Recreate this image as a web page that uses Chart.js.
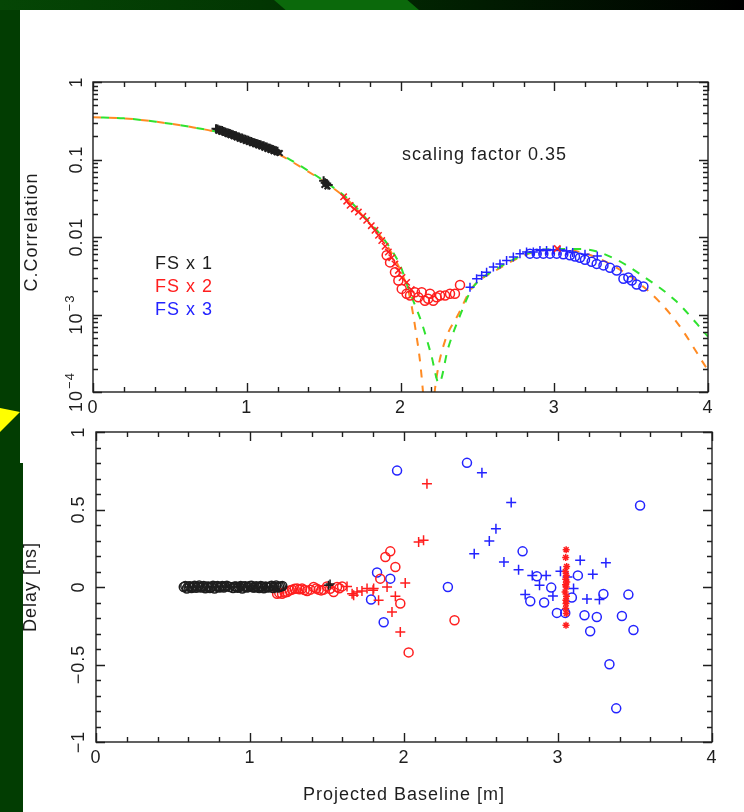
<!DOCTYPE html>
<html>
<head>
<meta charset="utf-8">
<title>C.Correlation and Delay vs Projected Baseline</title>
<script src="https://cdn.jsdelivr.net/npm/chart.js@4.4.1/dist/chart.umd.min.js"></script>
<style>
  html, body { margin: 0; padding: 0; }
  body { width: 744px; height: 812px; position: relative; overflow: hidden; background: #023d02; }
  .bg { position: absolute; }
  #strip { left: 0; top: 0; width: 744px; height: 10px; background: linear-gradient(90deg, #054605 0%, #023602 35%, #011c01 65%, #000 100%); }
  #streak { left: 274px; top: 0; width: 145px; height: 10px; background: #0b690b; clip-path: polygon(0 0, 92% 0, 100% 100%, 8% 100%); }
  #panel { left: 20px; top: 10px; width: 724px; height: 802px; background: #fff; }
  #notch { left: 20px; top: 463px; width: 3px; height: 349px; background: #023d02; }
  #arrow { left: 0; top: 408px; width: 20px; height: 24px; background: #ffff00; clip-path: polygon(0 0, 100% 17%, 0 100%); }
  canvas { position: absolute; left: 0; top: 0; }
</style>
</head>
<body>
<div class="bg" id="strip"></div>
<div class="bg" id="streak"></div>
<div class="bg" id="panel"></div>
<div class="bg" id="notch"></div>
<div class="bg" id="arrow"></div>
<canvas id="corrChart" width="744" height="812"></canvas>
<canvas id="delayChart" width="744" height="812"></canvas>

<script>
// ---------- data ----------

// axis ticks
const xTicks = [0, 1, 2, 3, 4];
const xTickLabels = ['0', '1', '2', '3', '4'];
const corrTicks = [1, 0.1, 0.01, 0.001, 0.0001];
const corrTickLabels = ['1', '0.1', '0.01', '10^−3', '10^−4'];
const delayTicks = [1, 0.5, 0, -0.5, -1];
const delayTickLabels = ['1', '0.5', '0', '−0.5', '−1'];

// model curves (C.Correlation)
const modelOrangeX = [0, 0.2, 0.41, 0.63, 0.85, 1.07, 1.22, 1.37, 1.52, 1.65, 1.78, 1.89, 2.0, 2.06, 2.1, 2.13, 2.155, 2.18, 2.21, 2.24, 2.29, 2.375, 2.465, 2.62, 2.835, 3.01, 3.18, 3.38, 3.59, 3.79, 4.0];
const modelOrangeY = [0.35, 0.34, 0.307, 0.264, 0.215, 0.153, 0.113, 0.076, 0.049, 0.031, 0.0164, 0.009, 0.0037, 0.0017, 0.0006, 0.00022, 0.00006, 0.00001, 0.00006, 0.00018, 0.00046, 0.001, 0.0022, 0.0037, 0.0061, 0.007, 0.0063, 0.0043, 0.0022, 0.00083, 0.00019];
const modelGreenX = [0, 0.2, 0.41, 0.63, 0.85, 1.07, 1.22, 1.37, 1.52, 1.65, 1.78, 1.89, 2.0, 2.05, 2.14, 2.2, 2.25, 2.31, 2.4, 2.465, 2.62, 2.835, 3.0, 3.18, 3.38, 3.59, 3.79, 4.0];
const modelGreenY = [0.35, 0.34, 0.307, 0.264, 0.217, 0.155, 0.116, 0.078, 0.05, 0.032, 0.017, 0.0095, 0.0042, 0.0022, 0.00076, 0.0003, 0.00013, 0.00037, 0.00112, 0.00215, 0.0038, 0.0062, 0.007, 0.007, 0.0054, 0.003, 0.0015, 0.00052];

// FS x 1 correlation (two overlapping runs of crosses)
const fs1CorrX = [0.80, 0.81, 0.82, 0.83, 0.84, 0.85, 0.86, 0.87, 0.88, 0.89, 0.90, 0.91, 0.92, 0.93, 0.94, 0.95, 0.96, 0.97, 0.98, 0.99, 1.00, 1.01, 1.02, 1.03, 1.04, 1.05, 1.06, 1.07, 1.08, 1.09, 1.10, 1.11, 1.12, 1.13, 1.14, 1.15, 1.16, 1.17, 1.18, 1.19, 1.20, 1.50, 1.51, 1.52, 1.53];
const fs1CorrY = [0.250, 0.247, 0.241, 0.238, 0.236, 0.229, 0.227, 0.221, 0.219, 0.216, 0.211, 0.209, 0.204, 0.202, 0.197, 0.195, 0.190, 0.189, 0.184, 0.182, 0.178, 0.177, 0.172, 0.171, 0.166, 0.165, 0.161, 0.160, 0.156, 0.155, 0.151, 0.150, 0.146, 0.145, 0.141, 0.140, 0.137, 0.135, 0.132, 0.130, 0.128, 0.053, 0.050, 0.049, 0.047];
const fs1CorrX2 = [0.815, 0.835, 0.855, 0.875, 0.895, 0.915, 0.935, 0.955, 0.975, 0.995, 1.015, 1.035, 1.055, 1.075, 1.095, 1.115, 1.135, 1.155, 1.175, 1.195, 1.215, 1.505, 1.525];
const fs1CorrY2 = [0.236, 0.229, 0.221, 0.214, 0.206, 0.200, 0.193, 0.186, 0.180, 0.174, 0.168, 0.162, 0.157, 0.152, 0.147, 0.142, 0.137, 0.133, 0.128, 0.124, 0.121, 0.047, 0.045];
// FS x 2 correlation
const fs2CorrCrossX = [1.63, 1.65, 1.672, 1.70, 1.726, 1.755, 1.78, 1.81, 1.834, 1.857, 1.878, 1.90, 1.921, 1.943, 1.964, 1.986, 2.01, 2.04, 2.07, 3.02];
const fs2CorrCrossY = [0.033, 0.029, 0.0256, 0.023, 0.021, 0.0185, 0.0164, 0.014, 0.0122, 0.0105, 0.009, 0.0076, 0.0064, 0.0054, 0.0045, 0.0037, 0.003, 0.0026, 0.0021, 0.0071];
const fs2CorrCircX = [1.91, 1.932, 1.964, 1.986, 2.008, 2.04, 2.062, 2.094, 2.116, 2.138, 2.159, 2.18, 2.192, 2.213, 2.235, 2.257, 2.29, 2.322, 2.354, 2.387];
const fs2CorrCircY = [0.0058, 0.0047, 0.0035, 0.00275, 0.00214, 0.00185, 0.00176, 0.00194, 0.00167, 0.00194, 0.0015, 0.0016, 0.00185, 0.0015, 0.00167, 0.00176, 0.00176, 0.00185, 0.00185, 0.0024];
// FS x 3 correlation
const fs3CorrCrossX = [2.452, 2.495, 2.528, 2.56, 2.604, 2.647, 2.69, 2.734, 2.777, 2.82, 2.864, 2.907, 2.95, 2.994, 3.037, 3.08, 3.12, 3.2, 3.28];
const fs3CorrCrossY = [0.00225, 0.00289, 0.00318, 0.00352, 0.0041, 0.0045, 0.00498, 0.0055, 0.0061, 0.0064, 0.0064, 0.0067, 0.0067, 0.0068, 0.0067, 0.0066, 0.0063, 0.006, 0.0057];
const fs3CorrCircX = [2.842, 2.886, 2.929, 2.972, 3.016, 3.059, 3.102, 3.135, 3.167, 3.2, 3.243, 3.276, 3.32, 3.363, 3.406, 3.45, 3.482, 3.504, 3.536, 3.58];
const fs3CorrCircY = [0.0061, 0.0061, 0.0061, 0.0061, 0.0061, 0.006, 0.0058, 0.0056, 0.0054, 0.0051, 0.0048, 0.0045, 0.0043, 0.004, 0.0037, 0.0029, 0.003, 0.00275, 0.00244, 0.0023];

// FS x 1 delay [ns]
const fs1DelayCircX = [0.57, 0.58, 0.59, 0.60, 0.61, 0.62, 0.63, 0.64, 0.65, 0.66, 0.67, 0.68, 0.69, 0.70, 0.71, 0.72, 0.73, 0.74, 0.75, 0.76, 0.77, 0.78, 0.79, 0.80, 0.81, 0.82, 0.83, 0.84, 0.85, 0.87, 0.89, 0.90, 0.91, 0.92, 0.93, 0.94, 0.95, 0.96, 0.97, 0.98, 0.99, 1.00, 1.01, 1.02, 1.03, 1.04, 1.05, 1.06, 1.07, 1.08, 1.09, 1.10, 1.11, 1.12, 1.13, 1.14, 1.15, 1.16, 1.17, 1.18, 1.19, 1.20, 1.21];
const fs1DelayCircY = [0.0, 0.006, -0.01, 0.004, 0.005, -0.006, 0.0, 0.008, -0.005, 0.002, 0.01, -0.004, 0.0, 0.006, -0.008, 0.002, 0.004, -0.006, 0.0, 0.008, -0.01, 0.004, 0.006, -0.004, 0.0, 0.006, -0.004, 0.003, 0.008, 0.0, -0.006, 0.004, 0.003, -0.005, 0.0, 0.006, -0.01, 0.003, 0.005, -0.004, 0.0, 0.006, 0.008, -0.003, -0.004, 0.005, 0.0, -0.006, 0.006, 0.002, -0.008, 0.004, 0.0, -0.004, 0.004, 0.008, -0.006, 0.002, 0.01, -0.004, 0.0, 0.004, 0.006];
const fs1DelayCrossX = [0.60, 0.66, 0.72, 0.78, 0.84, 0.86, 0.88, 0.92, 0.98, 1.04, 1.10, 1.16, 1.51, 1.52];
const fs1DelayCrossY = [0.0, 0.004, -0.004, 0.0, 0.006, -0.002, 0.002, 0.0, 0.004, -0.004, 0.0, 0.004, 0.012, 0.02];
// FS x 2 delay
const fs2DelayCircX = [1.176, 1.19, 1.208, 1.225, 1.241, 1.258, 1.273, 1.29, 1.306, 1.322, 1.338, 1.355, 1.371, 1.392, 1.413, 1.43, 1.446, 1.462, 1.478, 1.5, 1.52, 1.543, 1.565, 1.58, 1.598, 1.911, 1.879, 1.944, 1.846, 1.976, 2.03, 2.328];
const fs2DelayCircY = [-0.043, -0.038, -0.043, -0.036, -0.032, -0.022, -0.017, -0.012, -0.01, -0.015, -0.01, -0.02, -0.026, -0.017, 0.0, -0.01, -0.017, -0.022, -0.017, 0.004, -0.012, -0.032, 0.0, -0.008, 0.004, 0.23, 0.193, 0.129, 0.054, -0.107, -0.422, -0.214];
const fs2DelayCrossX = [1.63, 1.663, 1.673, 1.695, 1.727, 1.76, 1.799, 1.803, 1.835, 1.89, 1.922, 1.944, 1.976, 2.008, 2.095, 2.127, 2.149];
const fs2DelayCrossY = [0.004, -0.043, -0.053, -0.032, -0.026, -0.01, -0.021, -0.01, -0.086, 0.0, -0.161, -0.06, -0.29, 0.026, 0.29, 0.301, 0.666];
const fs2DelayStarX = [3.053, 3.05, 3.056, 3.048, 3.054, 3.05, 3.057, 3.049, 3.053, 3.046, 3.055, 3.051, 3.052, 3.05, 3.054, 3.052];
const fs2DelayStarY = [0.241, 0.19, 0.133, 0.1, 0.075, 0.05, 0.032, 0.015, 0.0, -0.032, -0.06, -0.086, -0.107, -0.139, -0.171, -0.247];
// FS x 3 delay
const fs3DelayCircX = [1.955, 2.409, 1.825, 1.911, 1.786, 1.868, 2.285, 2.77, 2.863, 2.956, 2.82, 2.91, 2.993, 3.047, 3.09, 3.129, 3.172, 3.252, 3.209, 3.295, 3.457, 3.415, 3.49, 3.334, 3.378, 3.533];
const fs3DelayCircY = [0.751, 0.801, 0.093, 0.054, -0.081, -0.227, 0.0, 0.23, 0.069, -0.004, -0.092, -0.1, -0.167, -0.167, -0.068, 0.075, -0.182, -0.193, -0.285, -0.045, -0.049, -0.187, -0.277, -0.498, -0.783, 0.526];
const fs3DelayCrossX = [2.506, 2.696, 2.597, 2.554, 2.456, 2.649, 2.744, 2.833, 2.923, 3.016, 2.88, 2.787, 2.967, 3.062, 3.101, 3.144, 3.226, 3.188, 3.269, 3.311];
const fs3DelayCrossY = [0.737, 0.545, 0.376, 0.296, 0.215, 0.161, 0.112, 0.075, 0.075, 0.101, 0.011, -0.049, -0.058, 0.064, -0.01, 0.172, 0.082, -0.077, -0.081, 0.157];

// ---------- styling ----------
const INK = '#1e1e1e';
const RED = '#ff1e1e';
const BLUE = '#2323ff';
const ORANGE = '#ff8a22';
const GREEN = '#2fe22f';
const FONT = '"Liberation Sans", Arial, sans-serif';

const pts = (xs, ys) => xs.map((x, i) => ({ x: x, y: ys[i] }));

function markers(xs, ys, color, style, r, bw) {
  return {
    data: pts(xs, ys),
    showLine: false,
    pointStyle: style,
    pointRadius: r,
    pointBorderColor: color,
    pointBackgroundColor: 'rgba(0,0,0,0)',
    pointBorderWidth: bw || 1.5,
  };
}

function curve(xs, ys, color, offset) {
  return {
    data: pts(xs, ys),
    showLine: true,
    borderColor: color,
    borderWidth: 2,
    borderDash: [8, 8],
    borderDashOffset: offset,
    pointRadius: 0,
    cubicInterpolationMode: 'monotone',
  };
}

// text with optional "^" superscript, drawn along +x of the current transform
function drawLabel(ctx, text, x, y, size, align) {
  const parts = text.split('^');
  ctx.letterSpacing = '1px';
  ctx.font = size + 'px ' + FONT;
  const w0 = ctx.measureText(parts[0]).width;
  let w1 = 0;
  const sup = Math.round(size * 0.72);
  if (parts[1]) {
    ctx.font = sup + 'px ' + FONT;
    w1 = ctx.measureText(parts[1]).width + 1;
  }
  let start = x;
  if (align === 'center') start = x - (w0 + w1) / 2;
  ctx.font = size + 'px ' + FONT;
  ctx.textAlign = 'left';
  ctx.fillText(parts[0], start, y);
  if (parts[1]) {
    ctx.font = sup + 'px ' + FONT;
    ctx.fillText(parts[1], start + w0 + 1, y - size * 0.42);
  }
}

function spacedText(ctx, text, x, y, align) {
  ctx.letterSpacing = '1px';
  ctx.font = '18px ' + FONT;
  ctx.textAlign = align;
  ctx.fillText(text, x, y);
}

// frame with inward ticks on all four sides, tick labels and titles
function framePlugin(o) {
  return {
    id: 'frame_' + o.name,
    afterDatasetsDraw(chart) {
      const { ctx, chartArea: a } = chart;
      const xs = chart.scales.x, ys = chart.scales.y;
      ctx.save();
      ctx.strokeStyle = INK;
      ctx.fillStyle = INK;
      ctx.lineWidth = 1.4;
      ctx.beginPath();

      // x ticks every 0.2, majors at integers
      for (let i = 0; i <= 20; i++) {
        const v = i / 5;
        const len = i % 5 === 0 ? 9 : 5;
        const px = Math.round(xs.getPixelForValue(v)) + 0.5;
        ctx.moveTo(px, a.bottom); ctx.lineTo(px, a.bottom - len);
        ctx.moveTo(px, a.top); ctx.lineTo(px, a.top + len);
      }
      // y ticks
      o.yTickValues().forEach(t => {
        const py = Math.round(ys.getPixelForValue(t.v)) + 0.5;
        const len = t.major ? 9 : 5;
        ctx.moveTo(a.left, py); ctx.lineTo(a.left + len, py);
        ctx.moveTo(a.right, py); ctx.lineTo(a.right - len, py);
      });
      ctx.stroke();
      ctx.strokeRect(a.left, a.top, a.right - a.left, a.bottom - a.top);

      ctx.textBaseline = 'alphabetic';
      // x tick labels
      xTicks.forEach((v, i) => {
        drawLabel(ctx, xTickLabels[i], xs.getPixelForValue(v), a.bottom + 21, 18, 'center');
      });
      // y tick labels, rotated
      o.yTicks.forEach((v, i) => {
        ctx.save();
        ctx.translate(o.yLabelX, ys.getPixelForValue(v));
        ctx.rotate(-Math.PI / 2);
        drawLabel(ctx, o.yTickLabels[i], 0, 0, 18, 'center');
        ctx.restore();
      });
      // y title
      ctx.save();
      ctx.translate(o.yTitleX, (a.top + a.bottom) / 2 + o.yTitleShift);
      ctx.rotate(-Math.PI / 2);
      spacedText(ctx, o.yTitle, 0, 0, 'center');
      ctx.restore();
      if (o.extra) o.extra(ctx, a);
      ctx.restore();
    },
  };
}

function logTickValues() {
  const out = [];
  corrTicks.forEach(v => out.push({ v: v, major: true }));
  for (let d = 0.0001; d < 0.5; d *= 10) {
    for (let k = 2; k <= 9; k++) out.push({ v: k * d, major: false });
  }
  return out;
}

function linTickValues() {
  const out = [];
  for (let i = -10; i <= 10; i++) out.push({ v: i / 10, major: i % 5 === 0 });
  return out;
}

const baseOptions = (padding, yScale) => ({
  responsive: false,
  animation: false,
  events: [],
  layout: { padding: padding },
  plugins: { legend: { display: false }, tooltip: { enabled: false } },
  scales: {
    x: { type: 'linear', min: 0, max: 4, display: false },
    y: Object.assign({ display: false }, yScale),
  },
});

// ---------- top: C.Correlation ----------
new Chart(document.getElementById('corrChart'), {
  type: 'scatter',
  data: {
    datasets: [
      markers(fs1CorrX, fs1CorrY, INK, 'cross', 4.5, 2),
      markers(fs1CorrX2, fs1CorrY2, INK, 'crossRot', 4, 2),
      markers(fs2CorrCrossX, fs2CorrCrossY, RED, 'crossRot', 4.5),
      markers(fs2CorrCircX, fs2CorrCircY, RED, 'circle', 4.5),
      markers(fs3CorrCrossX, fs3CorrCrossY, BLUE, 'cross', 4.5),
      markers(fs3CorrCircX, fs3CorrCircY, BLUE, 'circle', 4.5),
      curve(modelGreenX, modelGreenY, GREEN, 8),
      curve(modelOrangeX, modelOrangeY, ORANGE, 0),
    ],
  },
  options: baseOptions({ left: 93, top: 82, right: 36, bottom: 420 },
    { type: 'logarithmic', min: 0.0001, max: 1 }),
  plugins: [framePlugin({
    name: 'corr',
    yTicks: corrTicks,
    yTickLabels: corrTickLabels,
    yTickValues: logTickValues,
    yLabelX: 82,
    yTitle: 'C.Correlation',
    yTitleX: 37,
    yTitleShift: -5,
    extra(ctx) {
      ctx.fillStyle = INK;
      spacedText(ctx, 'scaling factor 0.35', 402, 160, 'left');
      [['FS x 1', INK], ['FS x 2', RED], ['FS x 3', BLUE]].forEach((it, i) => {
        ctx.fillStyle = it[1];
        spacedText(ctx, it[0], 155, 269 + i * 23, 'left');
      });
    },
  })],
});

// ---------- bottom: Delay ----------
new Chart(document.getElementById('delayChart'), {
  type: 'scatter',
  data: {
    datasets: [
      markers(fs1DelayCrossX, fs1DelayCrossY, INK, 'cross', 4.5),
      markers(fs1DelayCircX, fs1DelayCircY, INK, 'circle', 4.5),
      markers(fs2DelayStarX, fs2DelayStarY, RED, 'star', 3.5),
      markers(fs2DelayCrossX, fs2DelayCrossY, RED, 'cross', 5),
      markers(fs2DelayCircX, fs2DelayCircY, RED, 'circle', 4.5),
      markers(fs3DelayCrossX, fs3DelayCrossY, BLUE, 'cross', 5),
      markers(fs3DelayCircX, fs3DelayCircY, BLUE, 'circle', 4.5),
    ],
  },
  options: baseOptions({ left: 96, top: 432, right: 32, bottom: 70 },
    { type: 'linear', min: -1, max: 1 }),
  plugins: [framePlugin({
    name: 'delay',
    yTicks: delayTicks,
    yTickLabels: delayTickLabels,
    yTickValues: linTickValues,
    yLabelX: 84,
    yTitle: 'Delay [ns]',
    yTitleX: 36,
    yTitleShift: 0,
    extra(ctx, a) {
      ctx.fillStyle = INK;
      spacedText(ctx, 'Projected Baseline [m]', (a.left + a.right) / 2, 800, 'center');
    },
  })],
});
</script>
</body>
</html>
